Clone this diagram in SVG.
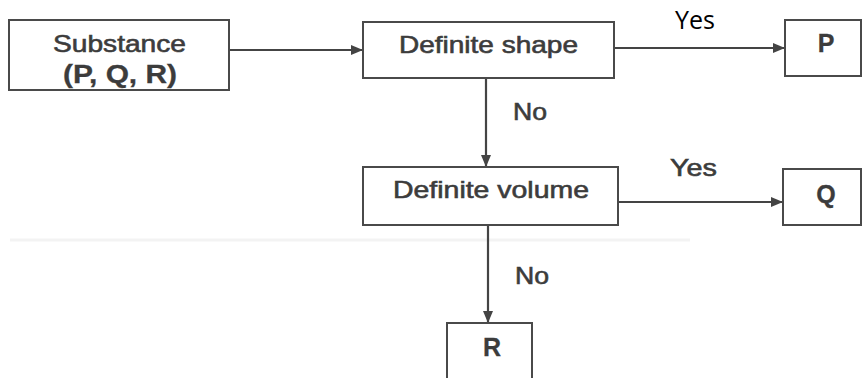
<svg xmlns="http://www.w3.org/2000/svg" width="863" height="378" viewBox="0 0 863 378">
<style>
.box{fill:#fff;stroke:#4a4a4a;stroke-width:2}
.t{font-family:"Liberation Sans",Arial,sans-serif;font-size:24px;fill:#3c3c3c;stroke:#3c3c3c;stroke-width:0.6}
.b{font-weight:bold;font-size:25px;stroke-width:0.3}
.c{stroke:#444;stroke-width:2.2;fill:none}
.yes{font-family:"Open Sans","Liberation Sans",sans-serif;font-size:25px;fill:#000}
</style>
<defs>
<marker id="ah" markerWidth="12" markerHeight="10" refX="11" refY="5" orient="auto" markerUnits="userSpaceOnUse">
<path d="M0,0 L12,5 L0,10 Z" fill="#444"/>
</marker>
</defs>
<rect width="863" height="378" fill="#fff"/>
<line x1="10" y1="240" x2="690" y2="240" stroke="#f3f3f3" stroke-width="3"/>
<g id="connectors">
<line class="c" x1="229" y1="50" x2="362" y2="50" marker-end="url(#ah)"/>
<line class="c" x1="614" y1="48" x2="784" y2="48" marker-end="url(#ah)"/>
<line class="c" x1="486" y1="78" x2="486" y2="166" marker-end="url(#ah)"/>
<line class="c" x1="618" y1="202" x2="782" y2="202" marker-end="url(#ah)"/>
<line class="c" x1="488" y1="225" x2="488" y2="322" marker-end="url(#ah)"/>
<text class="yes" x="675" y="29">Yes</text>
<text class="t" x="513" y="120" textLength="34" lengthAdjust="spacingAndGlyphs">No</text>
<text class="t" x="670" y="176" textLength="47" lengthAdjust="spacingAndGlyphs">Yes</text>
<text class="t" x="515" y="284" textLength="34" lengthAdjust="spacingAndGlyphs">No</text>
</g>
<g id="substance">
<rect class="box" x="9" y="20" width="220" height="70"/>
<text class="t" x="119.5" y="52" text-anchor="middle" textLength="133" lengthAdjust="spacingAndGlyphs">Substance</text>
<text class="t b" x="120" y="83" text-anchor="middle" textLength="114" lengthAdjust="spacingAndGlyphs">(P, Q, R)</text>
</g>
<g id="definite-shape">
<rect class="box" x="363" y="22" width="251" height="56"/>
<text class="t" x="488.5" y="53" text-anchor="middle" textLength="179" lengthAdjust="spacingAndGlyphs">Definite shape</text>
</g>
<g id="p">
<rect class="box" x="785" y="20" width="76" height="56"/>
<text class="t b" x="826" y="52" text-anchor="middle">P</text>
</g>
<g id="definite-volume">
<rect class="box" x="363" y="167" width="255" height="58"/>
<text class="t" x="491" y="198" text-anchor="middle" textLength="196" lengthAdjust="spacingAndGlyphs">Definite volume</text>
</g>
<g id="q">
<rect class="box" x="783" y="169" width="78" height="56"/>
<text class="t b" x="826" y="203" text-anchor="middle">Q</text>
</g>
<g id="r">
<rect class="box" x="447" y="323" width="85" height="62"/>
<text class="t b" x="492" y="356" text-anchor="middle">R</text>
</g>
</svg>
